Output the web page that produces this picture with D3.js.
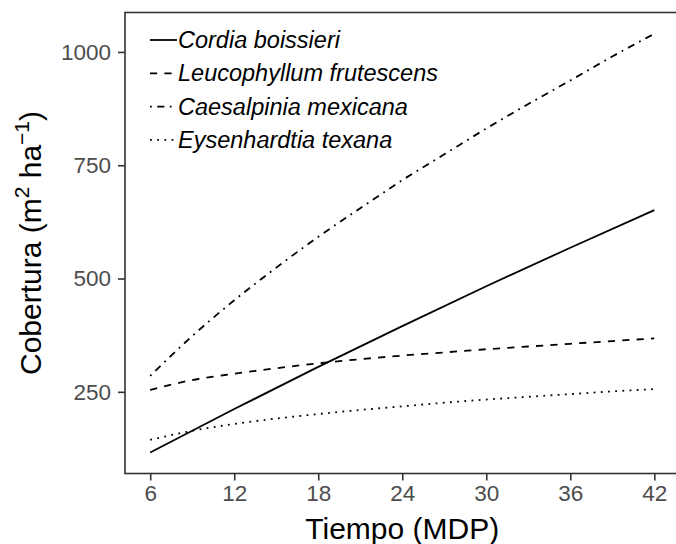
<!DOCTYPE html>
<html>
<head>
<meta charset="utf-8">
<script src="https://cdn.jsdelivr.net/npm/d3@7"></script>
<style>
  body { margin: 0; background: #fff; }
  text { font-family: "Liberation Sans", Arial, sans-serif; }
</style>
</head>
<body>
<div id="chart"></div>
<script>
const species = ["Cordia boissieri", "Leucophyllum frutescens", "Caesalpinia mexicana", "Eysenhardtia texana"];
const dashes = ["none", "7.2,7.2", "1.8,5.4,7.2,5.4", "1.8,5.4"];

const cordiaX = [6, 12, 18, 24, 30, 36, 42];
const cordiaY = [116, 212, 305, 395, 483, 568, 651];

const curveX = [6, 9, 12, 15, 18, 21, 24, 27, 30, 33, 36, 39, 42];
const leucoY = [254, 276, 290, 302, 313, 322, 330, 337, 344, 350, 356, 362, 368];
const caesaY = [285, 373, 452, 524, 592, 655, 717, 774, 831, 885, 937, 990, 1040];
const eysenY = [144, 164, 179, 191, 201, 210, 218, 226, 233, 239, 245, 251, 256];

const xTicks = [6, 12, 18, 24, 30, 36, 42];
const yTicks = [250, 500, 750, 1000];

const series = [
  {name: species[0], x: cordiaX, y: cordiaY, dash: dashes[0]},
  {name: species[1], x: curveX, y: leucoY, dash: dashes[1]},
  {name: species[2], x: curveX, y: caesaY, dash: dashes[2]},
  {name: species[3], x: curveX, y: eysenY, dash: dashes[3]}
];

const W = 676, H = 544;
const panel = {left: 125, top: 12.5, right: 679.5, bottom: 473.5};

const svg = d3.select("#chart").append("svg")
  .attr("width", W)
  .attr("height", H);

const x = d3.scaleLinear().domain([4.2, 43.8]).range([panel.left, panel.right]);
const y = d3.scaleLinear().domain([69.8, 1087]).range([panel.bottom, panel.top]);

// lines
const line = d3.line()
  .x(d => x(d[0]))
  .y(d => y(d[1]))
  .curve(d3.curveMonotoneX);

svg.append("g").selectAll("path")
  .data(series)
  .enter()
  .append("path")
    .attr("d", s => line(s.x.map((v, i) => [v, s.y[i]])))
    .attr("fill", "none")
    .attr("stroke", "#000")
    .attr("stroke-width", 1.8)
    .attr("stroke-dasharray", s => s.dash);

// panel border
svg.append("rect")
  .attr("x", panel.left)
  .attr("y", panel.top)
  .attr("width", panel.right - panel.left)
  .attr("height", panel.bottom - panel.top)
  .attr("fill", "none")
  .attr("stroke", "#333")
  .attr("stroke-width", 1.6);

// axes
const xAxis = svg.append("g")
  .attr("transform", `translate(0,${panel.bottom})`)
  .call(d3.axisBottom(x).tickValues(xTicks).tickSize(7).tickPadding(5));
const yAxis = svg.append("g")
  .attr("transform", `translate(${panel.left},0)`)
  .call(d3.axisLeft(y).tickValues(yTicks).tickFormat(d3.format("d")).tickSize(7).tickPadding(7));

[xAxis, yAxis].forEach(g => {
  g.select(".domain").remove();
  g.selectAll(".tick line").attr("stroke", "#333").attr("stroke-width", 1.6);
  g.selectAll(".tick text")
    .attr("fill", "#4D4D4D")
    .style("font-size", "22.5px")
    .style("font-family", "'Liberation Sans', Arial, sans-serif");
});

// axis titles
svg.append("text")
  .attr("x", (panel.left + panel.right) / 2)
  .attr("y", 539)
  .attr("text-anchor", "middle")
  .style("font-size", "30px")
  .text("Tiempo (MDP)");

const yt = svg.append("text")
  .attr("transform", `translate(41,${(panel.top + panel.bottom) / 2}) rotate(-90)`)
  .attr("text-anchor", "middle")
  .style("font-size", "30px");
yt.append("tspan").text("Cobertura (m");
yt.append("tspan").attr("dy", -12).style("font-size", "21px").text("2");
yt.append("tspan").attr("dy", 12).text(" ha");
yt.append("tspan").attr("dy", -12).style("font-size", "21px").text("\u22121");
yt.append("tspan").attr("dy", 12).text(")");

// legend
const legend = svg.append("g");
const rows = legend.selectAll("g")
  .data(series)
  .enter()
  .append("g")
    .attr("transform", (d, i) => `translate(150,${40 + i * 33.3})`);
rows.append("line")
  .attr("x1", 0).attr("x2", 27)
  .attr("y1", 0).attr("y2", 0)
  .attr("stroke", "#000")
  .attr("stroke-width", 1.8)
  .attr("stroke-dasharray", d => d.dash);
rows.append("text")
  .attr("x", 28)
  .attr("y", 8)
  .style("font-size", "23.5px")
  .style("font-style", "italic")
  .text(d => d.name);
</script>
</body>
</html>
